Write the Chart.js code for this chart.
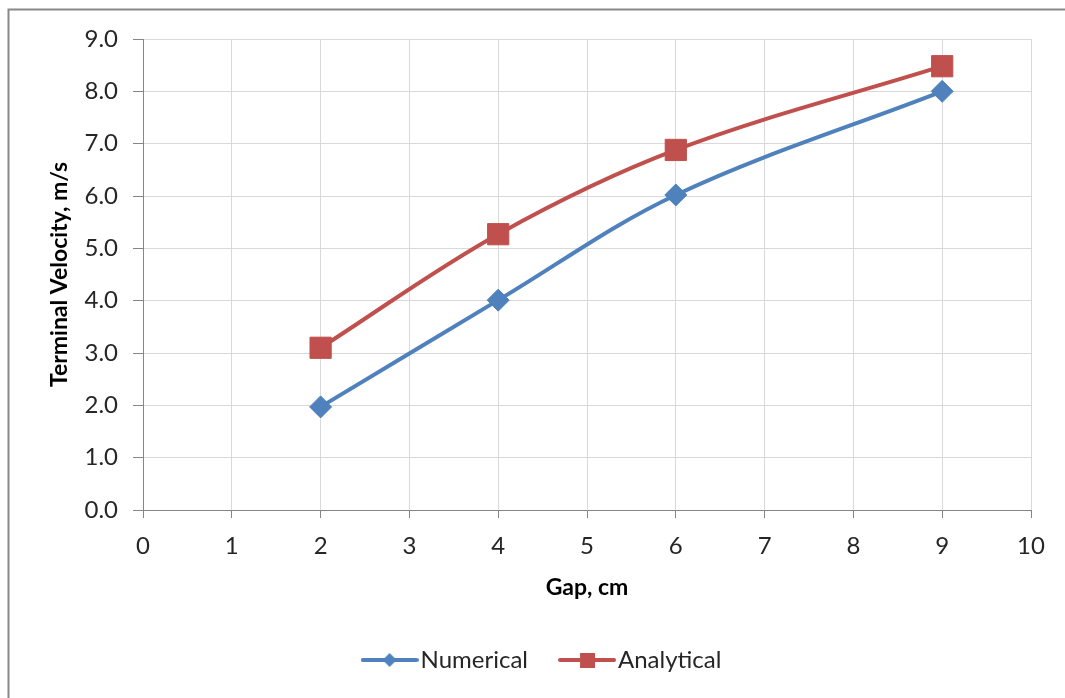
<!DOCTYPE html>
<html>
<head>
<meta charset="utf-8">
<script src="https://cdn.jsdelivr.net/npm/chart.js@4"></script>
<style>
    html, body { margin: 0; padding: 0; background: #fff; }
    #wrap { width: 1065px; height: 698px; position: relative; }
</style>
</head>
<body>
<div id="wrap"><canvas id="canvas1" width="1065" height="698"></canvas></div>
<script>
// values
let gapCm = [2, 4, 6, 9];
let numerical = [1.97, 4.01, 6.02, 8.0];
let analytical = [3.1, 5.27, 6.88, 8.48];
let xTicks = [0, 1, 2, 3, 4, 5, 6, 7, 8, 9, 10];
let yTicks = [0, 1, 2, 3, 4, 5, 6, 7, 8, 9];

let blue = '#4f81bd';
let red = '#c0504d';
let fontFamily = 'Lato, "Liberation Sans", sans-serif';

function toPoints(xs, ys) {
    return xs.map(function (x, i) {
        return {x: x, y: ys[i]};
    });
}

// legend sample: short line with the marker on it
function legendSample(color, shape) {
    let c = document.createElement('canvas');
    c.width = 58;
    c.height = 24;
    let g = c.getContext('2d');
    g.strokeStyle = color;
    g.lineWidth = 4;
    g.lineCap = 'round';
    g.beginPath();
    g.moveTo(2, 12);
    g.lineTo(56, 12);
    g.stroke();
    g.fillStyle = color;
    if (shape === 'diamond') {
        g.beginPath();
        g.moveTo(29, 5);
        g.lineTo(36, 12);
        g.lineTo(29, 19);
        g.lineTo(22, 12);
        g.closePath();
        g.fill();
    } else {
        g.fillRect(22, 5, 15, 15);
    }
    return c;
}

let samples = [legendSample(blue, 'diamond'), legendSample(red, 'square')];

let frame = {
    id: 'frame',
    beforeDraw: function (chart) {
        let ctx = chart.ctx;
        ctx.save();
        ctx.fillStyle = '#fff';
        ctx.fillRect(0, 0, chart.width, chart.height);
        ctx.strokeStyle = '#888888';
        ctx.lineWidth = 2;
        ctx.beginPath();
        ctx.moveTo(8.5, chart.height);
        ctx.lineTo(8.5, 9.5);
        ctx.lineTo(chart.width, 9.5);
        ctx.stroke();
        ctx.restore();
    }
};

let ctx1 = document.getElementById('canvas1').getContext('2d');
let velocityChart = new Chart(ctx1, {
    type: 'line',
    data: {
        datasets: [{
                label: 'Numerical',
                data: toPoints(gapCm, numerical),
                borderColor: blue,
                backgroundColor: blue,
                borderWidth: 4,
                pointStyle: 'rectRot',
                pointRadius: 11,
                pointHoverRadius: 11,
                pointBorderWidth: 1,
                tension: 0.35
            }, {
                label: 'Analytical',
                data: toPoints(gapCm, analytical),
                borderColor: red,
                backgroundColor: red,
                borderWidth: 4,
                pointStyle: 'rect',
                pointRadius: 15,
                pointHoverRadius: 15,
                pointBorderWidth: 1,
                tension: 0.35
            }]
    },
    options: {
        responsive: false,
        animation: false,
        layout: {
            // left padding keeps the legend centred where the original has it
            padding: {top: 39, right: 34, bottom: 16, left: 61}
        },
        scales: {
            x: {
                type: 'linear',
                min: 0,
                max: 10,
                afterBuildTicks: function (axis) {
                    axis.ticks = xTicks.map(function (v) {
                        return {value: v};
                    });
                },
                afterFit: function (axis) {
                    axis.height = 98;
                },
                grid: {color: '#d9d9d9', tickColor: '#868686', tickLength: 8},
                border: {color: '#868686', width: 1},
                ticks: {
                    color: '#262626',
                    padding: 14,
                    maxRotation: 0,
                    font: {family: fontFamily, size: 24}
                },
                title: {
                    display: true,
                    text: 'Gap, cm',
                    color: '#000',
                    padding: {top: 4, bottom: 7},
                    font: {family: fontFamily, size: 23, weight: 'bold'}
                }
            },
            y: {
                min: 0,
                max: 9,
                afterBuildTicks: function (axis) {
                    axis.ticks = yTicks.map(function (v) {
                        return {value: v};
                    });
                },
                afterFit: function (axis) {
                    axis.width = 82;
                },
                grid: {color: '#d9d9d9', tickColor: '#868686', tickLength: 10},
                border: {color: '#868686', width: 1},
                ticks: {
                    color: '#262626',
                    padding: 15,
                    font: {family: fontFamily, size: 24},
                    callback: function (v) {
                        return v.toFixed(1);
                    }
                },
                title: {
                    display: true,
                    text: 'Terminal Velocity, m/s',
                    color: '#000',
                    padding: {top: -15, bottom: 0},
                    font: {family: fontFamily, size: 23, weight: 'bold'}
                }
            }
        },
        plugins: {
            tooltip: {enabled: false},
            legend: {
                position: 'bottom',
                labels: {
                    usePointStyle: true,
                    pointStyleWidth: 38,
                    padding: 40,
                    color: '#262626',
                    font: {family: fontFamily, size: 24},
                    generateLabels: function (chart) {
                        let items = Chart.defaults.plugins.legend.labels.generateLabels(chart);
                        items.forEach(function (item, i) {
                            item.pointStyle = samples[i];
                        });
                        return items;
                    }
                }
            }
        }
    },
    plugins: [frame]
});
</script>
</body>
</html>
